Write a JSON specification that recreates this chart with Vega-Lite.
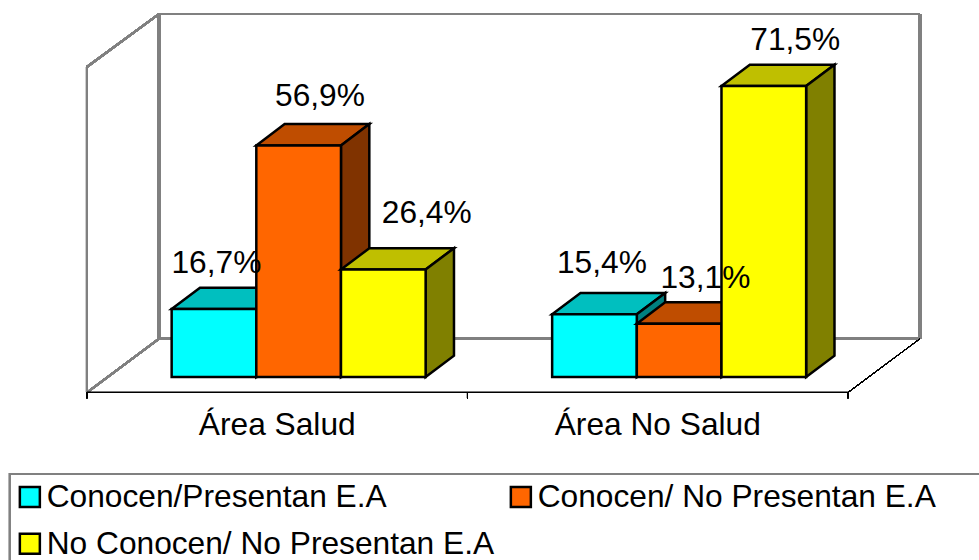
{
  "$schema": "https://vega.github.io/schema/vega-lite/v6.json",
  "width": 979,
  "height": 560,
  "padding": 0,
  "autosize": {"type": "none"},
  "background": "white",
  "config": {"view": {"stroke": null}, "font": "Liberation Sans"},
  "data": {"values": [
    {"area": "Área Salud", "series": "Conocen/Presentan E.A", "value": 16.7},
    {"area": "Área Salud", "series": "Conocen/ No Presentan E.A", "value": 56.9},
    {"area": "Área Salud", "series": "No Conocen/ No Presentan E.A", "value": 26.4},
    {"area": "Área No Salud", "series": "Conocen/Presentan E.A", "value": 15.4},
    {"area": "Área No Salud", "series": "Conocen/ No Presentan E.A", "value": 13.1},
    {"area": "Área No Salud", "series": "No Conocen/ No Presentan E.A", "value": 71.5}
  ]},
  "transform": [
    {"calculate": "datum.area === 'Área Salud' ? 0 : 1", "as": "cat"},
    {"calculate": "indexof(['Conocen/Presentan E.A','Conocen/ No Presentan E.A','No Conocen/ No Presentan E.A'], datum.series)", "as": "s"},
    {"calculate": "datum.cat + 0.2225 + datum.s * 0.2225", "as": "x0"},
    {"calculate": "datum.x0 + 0.2225", "as": "x1"},
    {"calculate": "datum.x0 + 0.0745", "as": "xb0"},
    {"calculate": "datum.x1 + 0.0745", "as": "xb1"},
    {"calculate": "datum.value + 5.25", "as": "vb"},
    {"calculate": "[datum.x0, datum.x0, datum.x1, datum.x1]", "as": "fx"},
    {"calculate": "[datum.value, datum.value, datum.value, datum.value]", "as": "fy"},
    {"calculate": "[0, 0, 0, 0]", "as": "fy2"},
    {"calculate": "[datum.x0, datum.xb0, datum.x1, datum.xb1]", "as": "tx"},
    {"calculate": "[datum.value, datum.vb, datum.vb, datum.vb]", "as": "ty"},
    {"calculate": "[datum.value, datum.value, datum.value, datum.vb]", "as": "ty2"},
    {"calculate": "[datum.x1, datum.x1, datum.xb1, datum.xb1]", "as": "sx"},
    {"calculate": "[datum.value, datum.value, datum.vb, datum.vb]", "as": "sy"},
    {"calculate": "[0, 0, 5.25, 5.25]", "as": "sy2"},
    {"flatten": ["fx", "fy", "fy2", "tx", "ty", "ty2", "sx", "sy", "sy2"]}
  ],
  "layer": [
    {
      "description": "Legend box, running off the right and bottom edges",
      "mark": {"type": "rect", "fill": "white", "stroke": "#808080", "strokeWidth": 2},
      "encoding": {
        "x": {"datum": -0.2024, "type": "quantitative", "scale": {"domain": [-0.2286, 2.3443], "range": [0, 979], "nice": false, "zero": false}, "axis": null},
        "x2": {"datum": 2.36},
        "y": {"datum": -23.83, "type": "quantitative", "scale": {"domain": [-44.96, 92.63], "range": [560, 0], "nice": false, "zero": false}, "axis": null},
        "y2": {"datum": -46}
      }
    },
    {
      "description": "Back wall, side wall and floor edges",
      "layer": [
        {"mark": {"type": "rule", "stroke": "#808080", "strokeWidth": 2}, "encoding": {"x": {"datum": 0.1892, "type": "quantitative"}, "x2": {"datum": 2.189}, "y": {"datum": 89.2, "type": "quantitative"}, "y2": {"datum": 89.2}}},
        {"mark": {"type": "rule", "stroke": "#808080", "strokeWidth": 3}, "encoding": {"x": {"datum": 0.1892, "type": "quantitative"}, "x2": {"datum": 0.1892}, "y": {"datum": 89.2, "type": "quantitative"}, "y2": {"datum": 9.4}}},
        {"mark": {"type": "rule", "stroke": "#808080", "strokeWidth": 3}, "encoding": {"x": {"datum": 2.189, "type": "quantitative"}, "x2": {"datum": 2.189}, "y": {"datum": 89.2, "type": "quantitative"}, "y2": {"datum": 9.4}}},
        {"mark": {"type": "rule", "stroke": "#808080", "strokeWidth": 2}, "encoding": {"x": {"datum": 0.1892, "type": "quantitative"}, "x2": {"datum": 2.189}, "y": {"datum": 9.4, "type": "quantitative"}, "y2": {"datum": 9.4}}},
        {"mark": {"type": "rule", "stroke": "#808080", "strokeWidth": 2}, "encoding": {"x": {"datum": 0, "type": "quantitative"}, "x2": {"datum": 0.1892}, "y": {"datum": 76.2, "type": "quantitative"}, "y2": {"datum": 89.2}}},
        {"mark": {"type": "rule", "stroke": "#808080", "strokeWidth": 2}, "encoding": {"x": {"datum": 0, "type": "quantitative"}, "x2": {"datum": 0}, "y": {"datum": 76.2, "type": "quantitative"}, "y2": {"datum": -3.8}}},
        {"mark": {"type": "rule", "stroke": "#808080", "strokeWidth": 2}, "encoding": {"x": {"datum": 0, "type": "quantitative"}, "x2": {"datum": 0.1892}, "y": {"datum": -3.8, "type": "quantitative"}, "y2": {"datum": 9.4}}},
        {"mark": {"type": "rule", "stroke": "black", "strokeWidth": 1}, "encoding": {"x": {"datum": 2, "type": "quantitative"}, "x2": {"datum": 2.189}, "y": {"datum": -3.8, "type": "quantitative"}, "y2": {"datum": 9.4}}},
        {"mark": {"type": "rule", "stroke": "black", "strokeWidth": 1}, "encoding": {"x": {"datum": 0, "type": "quantitative"}, "x2": {"datum": 2}, "y": {"datum": -3.8, "type": "quantitative"}, "y2": {"datum": -3.8}}},
        {"mark": {"type": "rule", "stroke": "black", "strokeWidth": 1}, "encoding": {"x": {"datum": 0, "type": "quantitative"}, "x2": {"datum": 0}, "y": {"datum": -3.8, "type": "quantitative"}, "y2": {"datum": -5.2}}},
        {"mark": {"type": "rule", "stroke": "black", "strokeWidth": 1}, "encoding": {"x": {"datum": 1, "type": "quantitative"}, "x2": {"datum": 1}, "y": {"datum": -3.8, "type": "quantitative"}, "y2": {"datum": -5.2}}},
        {"mark": {"type": "rule", "stroke": "black", "strokeWidth": 1}, "encoding": {"x": {"datum": 2, "type": "quantitative"}, "x2": {"datum": 2}, "y": {"datum": -3.8, "type": "quantitative"}, "y2": {"datum": -5.2}}}
      ]
    },
    {
      "description": "Cyan columns",
      "transform": [{"filter": "datum.s === 0"}],
      "layer": [
        {"mark": {"type": "area", "orient": "vertical", "stroke": "black", "strokeWidth": 2.5, "fill": "#00BFBF"}, "encoding": {"detail": {"field": "area"}, "x": {"field": "tx", "type": "quantitative"}, "y": {"field": "ty", "type": "quantitative"}, "y2": {"field": "ty2"}}},
        {"mark": {"type": "area", "orient": "vertical", "stroke": "black", "strokeWidth": 2.5, "fill": "#008080"}, "encoding": {"detail": {"field": "area"}, "x": {"field": "sx", "type": "quantitative"}, "y": {"field": "sy", "type": "quantitative"}, "y2": {"field": "sy2"}}},
        {"mark": {"type": "area", "orient": "vertical", "stroke": "black", "strokeWidth": 2.5}, "encoding": {"detail": {"field": "area"}, "x": {"field": "fx", "type": "quantitative"}, "y": {"field": "fy", "type": "quantitative"}, "y2": {"field": "fy2"}, "color": {"field": "series", "type": "nominal", "scale": {"domain": ["Conocen/Presentan E.A", "Conocen/ No Presentan E.A", "No Conocen/ No Presentan E.A"], "range": ["#00FFFF", "#FF6600", "#FFFF00"]}, "legend": {"title": null, "orient": "none", "legendX": 14, "legendY": 481, "padding": 0, "direction": "horizontal", "columns": 2, "columnPadding": 10, "rowPadding": 14, "symbolType": "square", "symbolSize": 400, "symbolStrokeColor": "black", "symbolStrokeWidth": 2.5, "symbolOpacity": 1, "labelFontSize": 31.7, "labelFont": "Liberation Sans", "labelColor": "black", "labelLimit": 600, "labelOffset": 1}}}}
      ]
    },
    {
      "description": "Orange columns",
      "transform": [{"filter": "datum.s === 1"}],
      "layer": [
        {"mark": {"type": "area", "orient": "vertical", "stroke": "black", "strokeWidth": 2.5, "fill": "#BF4D00"}, "encoding": {"detail": {"field": "area"}, "x": {"field": "tx", "type": "quantitative"}, "y": {"field": "ty", "type": "quantitative"}, "y2": {"field": "ty2"}}},
        {"mark": {"type": "area", "orient": "vertical", "stroke": "black", "strokeWidth": 2.5, "fill": "#803300"}, "encoding": {"detail": {"field": "area"}, "x": {"field": "sx", "type": "quantitative"}, "y": {"field": "sy", "type": "quantitative"}, "y2": {"field": "sy2"}}},
        {"mark": {"type": "area", "orient": "vertical", "stroke": "black", "strokeWidth": 2.5}, "encoding": {"detail": {"field": "area"}, "x": {"field": "fx", "type": "quantitative"}, "y": {"field": "fy", "type": "quantitative"}, "y2": {"field": "fy2"}, "color": {"field": "series", "type": "nominal"}}}
      ]
    },
    {
      "description": "Yellow columns",
      "transform": [{"filter": "datum.s === 2"}],
      "layer": [
        {"mark": {"type": "area", "orient": "vertical", "stroke": "black", "strokeWidth": 2.5, "fill": "#BFBF00"}, "encoding": {"detail": {"field": "area"}, "x": {"field": "tx", "type": "quantitative"}, "y": {"field": "ty", "type": "quantitative"}, "y2": {"field": "ty2"}}},
        {"mark": {"type": "area", "orient": "vertical", "stroke": "black", "strokeWidth": 2.5, "fill": "#808000"}, "encoding": {"detail": {"field": "area"}, "x": {"field": "sx", "type": "quantitative"}, "y": {"field": "sy", "type": "quantitative"}, "y2": {"field": "sy2"}}},
        {"mark": {"type": "area", "orient": "vertical", "stroke": "black", "strokeWidth": 2.5}, "encoding": {"detail": {"field": "area"}, "x": {"field": "fx", "type": "quantitative"}, "y": {"field": "fy", "type": "quantitative"}, "y2": {"field": "fy2"}, "color": {"field": "series", "type": "nominal"}}}
      ]
    },
    {
      "description": "Value labels above each column",
      "transform": [
        {"filter": "datum.fx === datum.x0 && datum.tx === datum.x0"},
        {"calculate": "replace(format(datum.value, '.1f'), '.', ',') + '%'", "as": "label"},
        {"calculate": "datum.x0 + 0.1097 + [[0.0079, 0.0575, 0.1156], [0.021, 0.0705, 0.0841]][datum.cat][datum.s]", "as": "lx"},
        {"calculate": "datum.value + [[11.3, 12.1, 13.8], [12.5, 11.3, 11.3]][datum.cat][datum.s]", "as": "ly"}
      ],
      "mark": {"type": "text", "fontSize": 31.7, "font": "Liberation Sans", "color": "black", "align": "center", "baseline": "middle"},
      "encoding": {
        "x": {"field": "lx", "type": "quantitative"},
        "y": {"field": "ly", "type": "quantitative"},
        "text": {"field": "label"}
      }
    },
    {
      "description": "Category labels under the floor",
      "transform": [
        {"filter": "datum.s === 0 && datum.fx === datum.x0 && datum.tx === datum.x0"},
        {"calculate": "datum.cat + 0.5", "as": "cx"},
        {"calculate": "-11.75", "as": "cy"}
      ],
      "mark": {"type": "text", "fontSize": 31.7, "font": "Liberation Sans", "color": "black", "align": "center", "baseline": "middle"},
      "encoding": {
        "x": {"field": "cx", "type": "quantitative"},
        "y": {"field": "cy", "type": "quantitative"},
        "text": {"field": "area"}
      }
    }
  ]
}
